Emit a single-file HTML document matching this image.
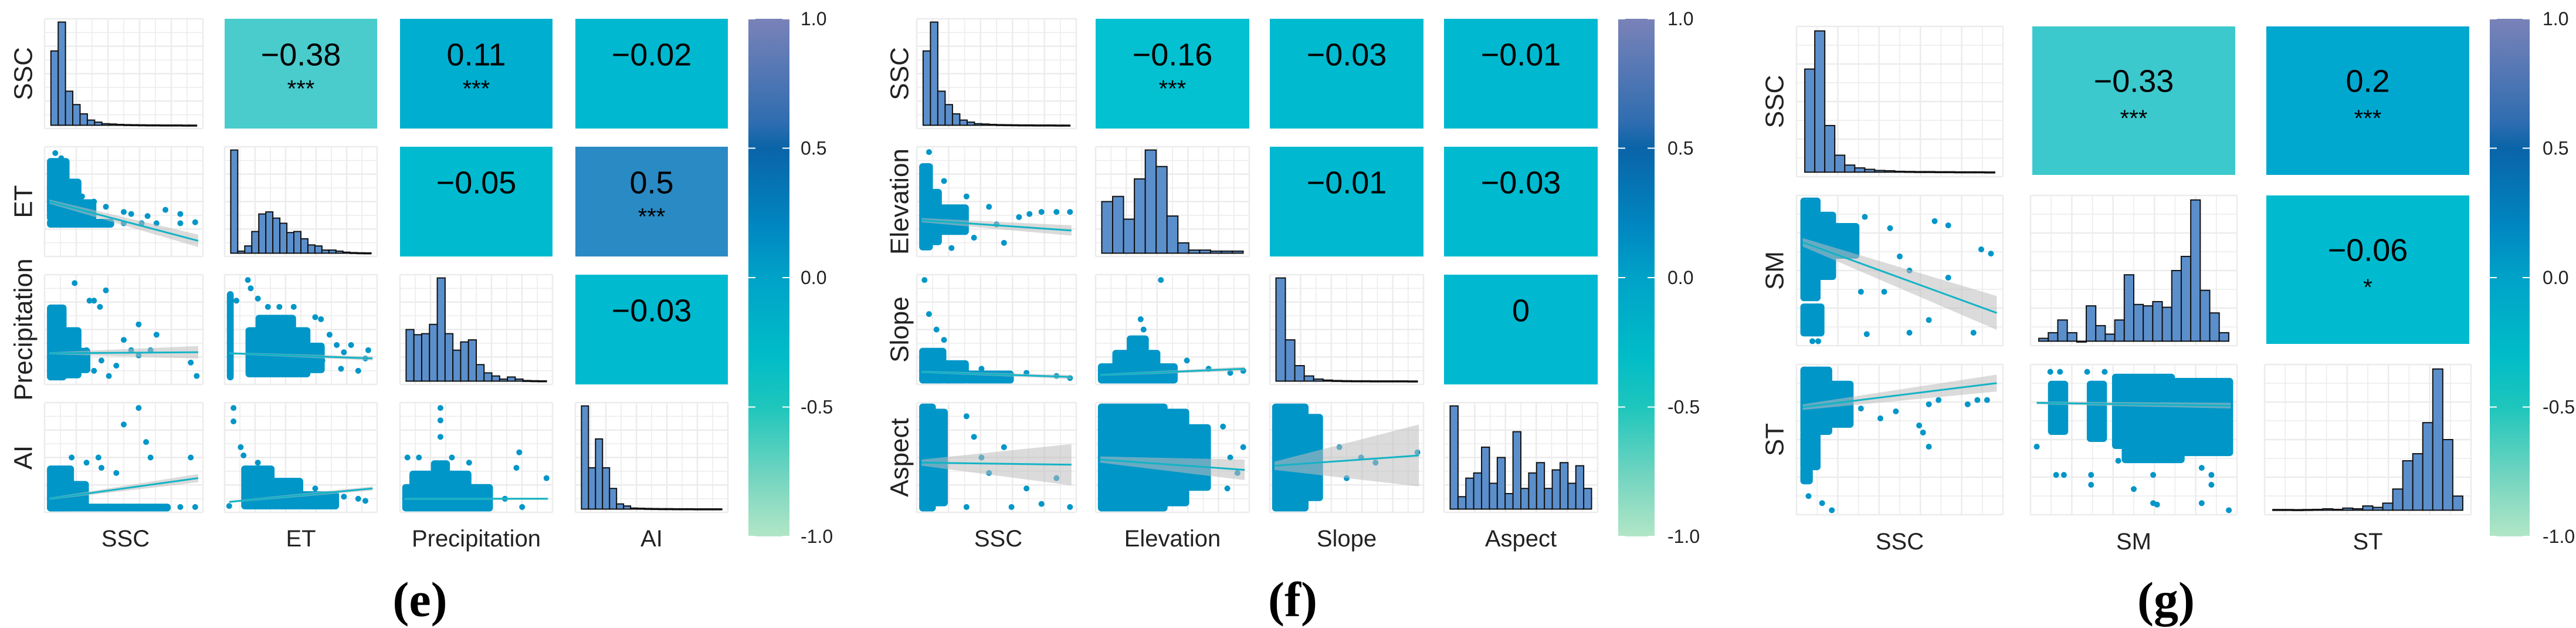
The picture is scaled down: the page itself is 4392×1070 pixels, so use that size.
<!DOCTYPE html>
<html><head><meta charset="utf-8"><style>
html,body{margin:0;padding:0;background:#fff;width:4392px;height:1070px;overflow:hidden}
svg{display:block}
</style></head><body>
<svg id="fig" width="4392" height="1070" viewBox="0 0 4392 1070" xmlns="http://www.w3.org/2000/svg" font-family="Liberation Sans, sans-serif">
<defs>
<linearGradient id="cbar" x1="0" y1="0" x2="0" y2="1">
<stop offset="0" stop-color="#7a82b8"/><stop offset="0.2" stop-color="#2f6db0"/><stop offset="0.25" stop-color="#0a64a8"/>
<stop offset="0.4" stop-color="#0086c0"/><stop offset="0.5" stop-color="#00a2c8"/><stop offset="0.65" stop-color="#00bcc8"/>
<stop offset="0.75" stop-color="#1ec6bc"/><stop offset="0.88" stop-color="#70d4c0"/><stop offset="1" stop-color="#b2e6c6"/>
</linearGradient>
</defs>
</svg>
<script>
// ---------- data ----------
const panelLabels = ["(e)","(f)","(g)"];
const varsE = ["SSC","ET","Precipitation","AI"];
const varsF = ["SSC","Elevation","Slope","Aspect"];
const varsG = ["SSC","SM","ST"];
const corrE = [[-0.38,"***"],[0.11,"***"],[-0.02,""],[-0.05,""],[0.5,"***"],[-0.03,""]];
const corrF = [[-0.16,"***"],[-0.03,""],[-0.01,""],[-0.01,""],[-0.03,""],[0,""]];
const corrG = [[-0.33,"***"],[0.2,"***"],[-0.06,"*"]];
const histE_SSC = [0.72,1.0,0.33,0.2,0.11,0.05,0.03,0.015,0.012,0.008,0.006,0.005,0.004,0.003,0.003,0.002,0.002,0.002,0.001,0.001];
const histE_ET = [1.0,0.02,0.07,0.21,0.38,0.4,0.34,0.29,0.2,0.21,0.14,0.08,0.07,0.03,0.03,0.02,0.01,0.006,0.004,0.003];
const histE_P = [0.5,0.45,0.46,0.55,1.0,0.46,0.3,0.38,0.4,0.16,0.08,0.05,0.02,0.04,0.02,0.006,0.004,0.003];
const histE_AI = [1.0,0.4,0.68,0.4,0.2,0.05,0.03,0.01,0.008,0.006,0.005,0.004,0.004,0.003,0.003,0.003,0.002,0.002,0.002,0.002];
const histF_SSC = [0.72,1.0,0.33,0.2,0.11,0.05,0.03,0.015,0.012,0.008,0.006,0.005,0.004,0.003,0.003,0.002,0.002,0.002,0.001,0.001];
const histF_Elev = [0.5,0.55,0.33,0.72,1.0,0.84,0.36,0.1,0.03,0.03,0.02,0.02,0.02];
const histF_Slope = [1.0,0.4,0.15,0.05,0.02,0.01,0.006,0.004,0.003,0.003,0.002,0.002,0.002,0.002,0.001];
const histF_Asp = [1.0,0.12,0.3,0.35,0.6,0.25,0.5,0.15,0.75,0.2,0.35,0.45,0.2,0.38,0.45,0.25,0.42,0.2];
const histG_SSC = [0.73,1.0,0.33,0.12,0.05,0.03,0.02,0.012,0.01,0.006,0.005,0.004,0.004,0.003,0.003,0.002,0.002,0.002,0.001];
const histG_SM = [0.02,0.06,0.15,0.06,0,0.25,0.11,0.05,0.15,0.47,0.26,0.25,0.28,0.24,0.5,0.6,1.0,0.36,0.2,0.06];
const histG_ST = [0.005,0.005,0.004,0.005,0.006,0.01,0.006,0.015,0.01,0.03,0.02,0.05,0.15,0.35,0.4,0.62,1.0,0.5,0.1];
// scatter: dense regions [x0,x1,y0,y1], individual points [x,y], fit [y@0,y@1,bandHalf@0,bandHalf@1]
const eETvsSSC_dense = [[0,0.12,0.4,0.9],[0,0.2,0.33,0.7],[0,0.42,0.27,0.31],[0.18,0.3,0.33,0.5]];
const eETvsSSC_pts = [[0.04,0.97],[0.08,0.92],[0.1,0.85],[0.22,0.55],[0.3,0.5],[0.38,0.45],[0.5,0.4],[0.55,0.38],[0.66,0.36],[0.78,0.42],[0.88,0.38],[0.98,0.3],[0.5,0.29],[0.62,0.29],[0.72,0.29],[0.88,0.29],[0.25,0.42]];
const eETvsSSC_fit = [0.5,0.12,0.02,0.06];
const ePvsSSC_dense = [[0,0.1,0.03,0.72],[0.1,0.2,0.05,0.5],[0.2,0.26,0.1,0.3]];
const ePvsSSC_pts = [[0.17,0.95],[0.38,0.88],[0.27,0.78],[0.3,0.78],[0.34,0.72],[0.6,0.55],[0.5,0.4],[0.72,0.45],[0.68,0.3],[0.55,0.3],[0.25,0.3],[0.35,0.2],[0.45,0.15],[0.6,0.25],[0.95,0.18],[0.99,0.05],[0.3,0.1],[0.4,0.05]];
const ePvsSSC_fit = [0.27,0.28,0.01,0.06];
const ePvsET_dense = [[0,0.015,0.03,0.85],[0.13,0.55,0.06,0.5],[0.2,0.45,0.5,0.62],[0.55,0.65,0.1,0.35]];
const ePvsET_pts = [[0.13,0.98],[0.15,0.9],[0.2,0.8],[0.27,0.72],[0.35,0.72],[0.45,0.72],[0.6,0.62],[0.64,0.6],[0.7,0.45],[0.75,0.35],[0.8,0.28],[0.85,0.35],[0.95,0.22],[0.9,0.1],[0.78,0.12],[0.05,0.78],[0.65,0.2],[0.97,0.3]];
const ePvsET_fit = [0.27,0.22,0.01,0.02];
const eAIvsSSC_dense = [[0,0.15,0.0,0.4],[0.15,0.25,0.02,0.25],[0,0.8,0,0.03]];
const eAIvsSSC_pts = [[0.6,0.98],[0.5,0.82],[0.65,0.65],[0.68,0.5],[0.15,0.5],[0.33,0.5],[0.95,0.5],[0.35,0.4],[0.45,0.35],[0.25,0.45],[0.98,0.02],[0.88,0.02]];
const eAIvsSSC_fit = [0.1,0.3,0.01,0.04];
const eAIvsET_dense = [[0.1,0.3,0.02,0.4],[0.3,0.5,0.02,0.28],[0.5,0.75,0.02,0.15]];
const eAIvsET_pts = [[0.03,0.98],[0.03,0.85],[0.08,0.6],[0.1,0.52],[0.2,0.45],[0.6,0.2],[0.8,0.12],[0.9,0.1],[0.95,0.08],[0.0,0.03]];
const eAIvsET_fit = [0.07,0.2,0.01,0.02];
const eAIvsP_dense = [[0,0.6,0,0.22],[0.05,0.45,0.22,0.35],[0.2,0.3,0.35,0.45]];
const eAIvsP_pts = [[0.25,0.98],[0.25,0.86],[0.25,0.7],[0.02,0.5],[0.1,0.5],[0.33,0.5],[0.45,0.45],[0.8,0.55],[0.78,0.4],[0.99,0.3],[0.7,0.1],[0.82,0.02]];
const eAIvsP_fit = [0.1,0.1,0.01,0.01];
const fEvsSSC_dense = [[0,0.06,0.05,0.85],[0.06,0.12,0.1,0.6],[0.12,0.3,0.2,0.45]];
const fEvsSSC_pts = [[0.05,0.98],[0.15,0.7],[0.3,0.55],[0.45,0.45],[0.5,0.28],[0.65,0.35],[0.72,0.38],[0.8,0.4],[0.9,0.4],[0.99,0.4],[0.35,0.15],[0.55,0.1],[0.2,0.05]];
const fEvsSSC_fit = [0.32,0.22,0.02,0.05];
const fSvsSSC_dense = [[0,0.15,0,0.3],[0.15,0.3,0,0.18],[0.3,0.6,0,0.08]];
const fSvsSSC_pts = [[0.02,0.98],[0.05,0.65],[0.1,0.5],[0.15,0.4],[0.4,0.12],[0.7,0.08],[0.9,0.05],[0.99,0.03]];
const fSvsSSC_fit = [0.09,0.04,0.01,0.02];
const fSvsE_dense = [[0.0,0.52,0,0.15],[0.1,0.4,0.15,0.28],[0.2,0.32,0.28,0.42]];
const fSvsE_pts = [[0.42,0.98],[0.28,0.6],[0.3,0.5],[0.6,0.2],[0.75,0.12],[0.9,0.08],[0.99,0.1]];
const fSvsE_fit = [0.06,0.12,0.01,0.02];
const fAvsSSC_dense = [[0,0.08,0,1],[0.08,0.16,0.05,0.95]];
const fAvsSSC_pts = [[0.3,0.9],[0.35,0.7],[0.4,0.5],[0.45,0.35],[0.55,0.6],[0.7,0.2],[0.8,0.05],[0.9,0.3],[0.99,0.02],[0.6,0.02],[0.3,0.02]];
const fAvsSSC_fit = [0.45,0.43,0.03,0.2];
const fAvsE_dense = [[0,0.45,0,1],[0.45,0.6,0.05,0.95],[0.6,0.75,0.2,0.8]];
const fAvsE_pts = [[0.85,0.8],[0.9,0.5],[0.95,0.35],[0.88,0.2],[0.99,0.6]];
const fAvsE_fit = [0.48,0.38,0.03,0.1];
const fAvsS_dense = [[0,0.22,0,1],[0.22,0.32,0.1,0.9]];
const fAvsS_pts = [[0.45,0.6],[0.5,0.3],[0.6,0.5],[0.7,0.45],[0.99,0.55]];
const fAvsS_fit = [0.42,0.52,0.04,0.3];
const gSMvsSSC_dense = [[0,0.08,0.3,1],[0.08,0.16,0.45,0.9],[0.16,0.28,0.6,0.82],[0,0.1,0.05,0.25]];
const gSMvsSSC_pts = [[0.32,0.88],[0.45,0.8],[0.68,0.85],[0.75,0.82],[0.92,0.65],[0.97,0.62],[0.5,0.6],[0.55,0.5],[0.75,0.45],[0.42,0.35],[0.3,0.35],[0.65,0.15],[0.88,0.06],[0.55,0.06],[0.33,0.05],[0.05,0.0],[0.08,0.0]];
const gSMvsSSC_fit = [0.7,0.2,0.03,0.12];
const gSTvsSSC_dense = [[0,0.14,0.55,1],[0.14,0.25,0.6,0.9],[0,0.08,0.3,0.55],[0,0.04,0.2,0.3]];
const gSTvsSSC_pts = [[0.3,0.72],[0.4,0.65],[0.48,0.7],[0.6,0.6],[0.65,0.75],[0.7,0.78],[0.85,0.75],[0.9,0.78],[0.95,0.78],[0.62,0.55],[0.65,0.45],[0.03,0.1],[0.1,0.05],[0.15,0.0]];
const gSTvsSSC_fit = [0.73,0.9,0.02,0.06];
const gSTvsSM_dense = [[0.07,0.15,0.55,0.9],[0.27,0.35,0.5,0.9],[0.4,0.7,0.45,0.95],[0.7,1,0.4,0.92],[0.45,0.75,0.35,0.45]];
const gSTvsSM_pts = [[0.07,0.98],[0.12,0.98],[0.26,0.98],[0.35,0.98],[0.0,0.45],[0.1,0.25],[0.14,0.25],[0.28,0.25],[0.28,0.18],[0.5,0.15],[0.6,0.25],[0.85,0.3],[0.9,0.25],[0.9,0.18],[0.6,0.05],[0.62,0.04],[0.85,0.05],[0.99,0.0],[0.42,0.35]];
const gSTvsSM_fit = [0.76,0.74,0.01,0.02];

// ---------- drawing ----------
const svg = document.getElementById('fig');
const NS = "http://www.w3.org/2000/svg";
function mk(tag, attrs, parent){const e=document.createElementNS(NS,tag);for(const k in attrs)e.setAttribute(k,attrs[k]);(parent||svg).appendChild(e);return e;}
function fmtCorr(v){ if(v===0) return "0"; let s=Math.abs(v).toFixed(2).replace(/0$/,''); return (v<0?"−":"")+s; }
function corrColor(v){
  const stops=[[-1,[178,230,198]],[-0.4,[80,204,204]],[-0.3,[50,200,206]],[-0.15,[0,192,208]],[0,[0,184,208]],[0.2,[0,168,208]],[0.5,[42,138,196]],[1,[122,130,184]]];
  for(let i=0;i<stops.length-1;i++){const a=stops[i],b=stops[i+1];if(v<=b[0]){const t=(v-a[0])/(b[0]-a[0]);const c=a[1].map((x,j)=>Math.round(x+(b[1][j]-x)*t));return `rgb(${c})`;}}
  return 'rgb(122,130,184)';
}
function grid(g,x,y,w,h){
  for(let i=0;i<=10;i++){const xx=x+w*i/10;mk('line',{x1:xx,x2:xx,y1:y,y2:y+h,stroke:'#ececec','stroke-width':i%2?1.5:2.5},g);}
  for(let i=0;i<=8;i++){const yy=y+h*i/8;mk('line',{x1:x,x2:x+w,y1:yy,y2:yy,stroke:'#ececec','stroke-width':i%2?1.5:2.5},g);}
}
function histCell(name,box,counts){
  const g=mk('g',{});
  
  
  grid(g,box.x,box.y,box.w,box.h);
  const px=box.x+box.w*0.04, pw=box.w*0.92, base=box.y+box.h*0.97, ph=box.h*0.94;
  const bw=pw/counts.length;
  counts.forEach((c,i)=>{
    const bh=c*ph;
    const r=mk('rect',{x:px+i*bw,y:base-bh,width:bw,height:Math.max(bh,1.5),fill:'#5b8fcc',stroke:'#111','stroke-width':2},g);
    
    
  });
}
function scatterCell(name,box,dense,pts,fit){
  const g=mk('g',{});
  
  
  grid(g,box.x,box.y,box.w,box.h);
  const sx=v=>box.x+box.w*(0.03+0.94*v), sy=v=>box.y+box.h*(0.97-0.94*v);
  dense.forEach(d=>{
    const r=mk('rect',{x:sx(d[0])-4,y:sy(d[3])-4,width:sx(d[1])-sx(d[0])+8,height:sy(d[2])-sy(d[3])+8,rx:6,fill:'#0096c8'},g);
    
    
  });
  pts.forEach(p=>{
    const c=mk('circle',{cx:sx(p[0]),cy:sy(p[1]),r:5,fill:'#0096c8'},g);
    
    
  });
  const band=mk('polygon',{points:`${sx(0)},${sy(fit[0]+fit[2])} ${sx(1)},${sy(fit[1]+fit[3])} ${sx(1)},${sy(fit[1]-fit[3])} ${sx(0)},${sy(fit[0]-fit[2])}`,fill:'#bdbdbd','fill-opacity':0.55},g);
  
  
  const ln=mk('line',{x1:sx(0),y1:sy(fit[0]),x2:sx(1),y2:sy(fit[1]),stroke:'#13b3c6','stroke-width':3},g);
  
  
}
function corrCell(name,box,val,stars,numY,starY,fs){
  const g=mk('g',{});
  
  
  mk('rect',{x:box.x,y:box.y,width:box.w,height:box.h,fill:corrColor(val)},g);
  const t=mk('text',{x:box.x+box.w/2,y:box.y+box.h*numY,'text-anchor':'middle','dominant-baseline':'central','font-size':fs,fill:'#000'},g);
  t.textContent=fmtCorr(val);
  
  
  if(stars){const s=mk('text',{x:box.x+box.w/2,y:box.y+box.h*starY,'text-anchor':'middle','dominant-baseline':'central','font-size':40,fill:'#000'},g);
    s.textContent=stars;
    
    }
}
function colorbar(name,x,y,w,h,lx){
  const g=mk('g',{});
  
  
  mk('rect',{x:x,y:y,width:w,height:h,fill:'url(#cbar)'},g);
  const ticks=[1,0.5,0,-0.5,-1];
  ticks.forEach(v=>{
    const yy=y+h*(1-v)/2;
    mk('line',{x1:x,x2:x+12,y1:yy,y2:yy,stroke:'#fff','stroke-width':2},g);
    mk('line',{x1:x+w-12,x2:x+w,y1:yy,y2:yy,stroke:'#fff','stroke-width':2},g);
    const t=mk('text',{x:lx,y:yy,'dominant-baseline':'central','font-size':32,fill:'#222'},g);
    t.textContent=v.toFixed(1);
    
    
  });
}
function label(txt,x,y,fs,rot,name,extra){
  const t=mk('text',Object.assign({x:x,y:y,'text-anchor':'middle','dominant-baseline':'central','font-size':fs,fill:'#222'},rot?{transform:`rotate(-90 ${x} ${y})`}:{} ,extra||{}));
  t.textContent=txt;
  
  
  return t;
}
const plStyle={style:'font-family:"Liberation Serif",serif;font-weight:bold',fill:'#000'};

// ----- panel (e) -----
const eCols=[84,383,682,981], eRows=[32,250,468,686], eW=260, eH=187;
const bE=(r,c)=>({x:eCols[c]-(c===0?8:0),y:eRows[r],w:eW+(c===0?10:0),h:eH});
histCell('hist-ssc-e',bE(0,0),histE_SSC);
histCell('hist-et-e',bE(1,1),histE_ET);
histCell('hist-precip-e',bE(2,2),histE_P);
histCell('hist-ai-e',bE(3,3),histE_AI);
scatterCell('scatter-et-ssc-e',bE(1,0),eETvsSSC_dense,eETvsSSC_pts,eETvsSSC_fit);
scatterCell('scatter-precip-ssc-e',bE(2,0),ePvsSSC_dense,ePvsSSC_pts,ePvsSSC_fit);
scatterCell('scatter-precip-et-e',bE(2,1),ePvsET_dense,ePvsET_pts,ePvsET_fit);
scatterCell('scatter-ai-ssc-e',bE(3,0),eAIvsSSC_dense,eAIvsSSC_pts,eAIvsSSC_fit);
scatterCell('scatter-ai-et-e',bE(3,1),eAIvsET_dense,eAIvsET_pts,eAIvsET_fit);
scatterCell('scatter-ai-precip-e',bE(3,2),eAIvsP_dense,eAIvsP_pts,eAIvsP_fit);
const upperE=[[0,1],[0,2],[0,3],[1,2],[1,3],[2,3]];
upperE.forEach((rc,i)=>corrCell('corr-cell-e',bE(rc[0],rc[1]),corrE[i][0],corrE[i][1],0.33,0.64,54));
colorbar('colorbar-e',1276,32,70,882,1365);
varsE.forEach((v,i)=>label(v,eCols[i]+eW/2,918,40,false,'x-axis-label'));
varsE.forEach((v,i)=>label(v,40,eRows[i]+eH/2,44,true,'y-axis-label'));
label(panelLabels[0],716,1022,84,false,'panel-label',plStyle);

// ----- panel (f) -----
const fCols=[1571,1868,2165,2462], fW=262;
const bF=(r,c)=>({x:fCols[c]-(c===0?8:0),y:eRows[r],w:fW+(c===0?10:0),h:eH});
histCell('hist-ssc-f',bF(0,0),histF_SSC);
histCell('hist-elevation-f',bF(1,1),histF_Elev);
histCell('hist-slope-f',bF(2,2),histF_Slope);
histCell('hist-aspect-f',bF(3,3),histF_Asp);
scatterCell('scatter-elev-ssc-f',bF(1,0),fEvsSSC_dense,fEvsSSC_pts,fEvsSSC_fit);
scatterCell('scatter-slope-ssc-f',bF(2,0),fSvsSSC_dense,fSvsSSC_pts,fSvsSSC_fit);
scatterCell('scatter-slope-elev-f',bF(2,1),fSvsE_dense,fSvsE_pts,fSvsE_fit);
scatterCell('scatter-aspect-ssc-f',bF(3,0),fAvsSSC_dense,fAvsSSC_pts,fAvsSSC_fit);
scatterCell('scatter-aspect-elev-f',bF(3,1),fAvsE_dense,fAvsE_pts,fAvsE_fit);
scatterCell('scatter-aspect-slope-f',bF(3,2),fAvsS_dense,fAvsS_pts,fAvsS_fit);
upperE.forEach((rc,i)=>corrCell('corr-cell-f',bF(rc[0],rc[1]),corrF[i][0],corrF[i][1],0.33,0.64,54));
colorbar('colorbar-f',2759,32,62,882,2843);
varsF.forEach((v,i)=>label(v,fCols[i]+fW/2,918,40,false,'x-axis-label'));
varsF.forEach((v,i)=>label(v,1534,eRows[i]+eH/2,44,true,'y-axis-label'));
label(panelLabels[1],2204,1022,84,false,'panel-label',plStyle);

// ----- panel (g) -----
const gCols=[3063,3462,3861], gRows=[45,333,621], gW=352, gH=256;
const bG=(r,c)=>({x:gCols[c],y:gRows[r],w:gW,h:gH});
histCell('hist-ssc-g',bG(0,0),histG_SSC);
histCell('hist-sm-g',bG(1,1),histG_SM);
histCell('hist-st-g',bG(2,2),histG_ST);
scatterCell('scatter-sm-ssc-g',bG(1,0),gSMvsSSC_dense,gSMvsSSC_pts,gSMvsSSC_fit);
scatterCell('scatter-st-ssc-g',bG(2,0),gSTvsSSC_dense,gSTvsSSC_pts,gSTvsSSC_fit);
scatterCell('scatter-st-sm-g',bG(2,1),gSTvsSM_dense,gSTvsSM_pts,gSTvsSM_fit);
const upperG=[[0,1],[0,2],[1,2]];
upperG.forEach((rc,i)=>corrCell('corr-cell-g',{x:gCols[rc[1]]+3,y:gRows[rc[0]],w:gW-6,h:gH-3},corrG[i][0],corrG[i][1],0.37,0.62,54));
colorbar('colorbar-g',4245,32,68,882,4335);
varsG.forEach((v,i)=>label(v,gCols[i]+gW/2,923,40,false,'x-axis-label'));
varsG.forEach((v,i)=>label(v,3026,gRows[i]+gH/2,44,true,'y-axis-label'));
label(panelLabels[2],3693,1022,84,false,'panel-label',plStyle);
</script>
</body></html>
